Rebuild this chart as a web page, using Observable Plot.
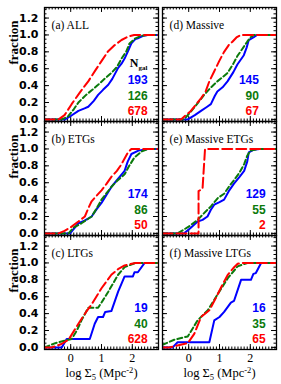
<!DOCTYPE html>
<html><head><meta charset="utf-8">
<script src="https://cdn.jsdelivr.net/npm/d3@7"></script>
<script src="https://cdn.jsdelivr.net/npm/@observablehq/plot@0.6"></script>
<style>body{margin:0;background:#fff}</style>
</head><body><div id="chart"></div>
<script>
// ---- data ----
const panelTitles = ["(a) ALL","(b) ETGs","(c) LTGs","(d) Massive","(e) Massive ETGs","(f) Massive LTGs"];
const panelCols = ["L","L","L","R","R","R"];
const panelRows = [0,1,2,0,1,2];
const nBlue = [193, 174, 19, 145, 129, 16];
const nGreen = [126, 86, 40, 90, 55, 35];
const nRed = [678, 50, 628, 67, 2, 65];
const xTickLabels = [0, 1, 2];
const yTickLabels = [0, 0.2, 0.4, 0.6, 0.8, 1.0, 1.2];

const aBlue = [[-0.85,0],[-0.18,0],[0.0,0.04],[0.25,0.1],[0.45,0.13],[0.57,0.15],[0.75,0.22],[0.89,0.29],[1.05,0.35],[1.22,0.41],[1.35,0.48],[1.54,0.61],[1.65,0.66],[1.75,0.72],[1.85,0.8],[1.97,0.9],[2.1,0.95],[2.18,0.96],[2.35,0.99],[2.5,1.0],[2.85,1.0]];
const aGreen = [[-0.85,0],[-0.29,0],[-0.1,0.03],[0.1,0.12],[0.25,0.2],[0.5,0.29],[0.7,0.35],[0.89,0.41],[1.1,0.48],[1.32,0.55],[1.5,0.62],[1.65,0.72],[1.8,0.8],[1.91,0.9],[2.1,0.96],[2.3,0.99],[2.5,1.0],[2.85,1.0]];
const aRed = [[-0.85,0],[-0.39,0],[-0.2,0.05],[0.03,0.18],[0.3,0.32],[0.57,0.45],[0.8,0.58],[1.0,0.69],[1.2,0.8],[1.43,0.88],[1.65,0.94],[1.86,0.98],[2.06,1.0],[2.85,1.0]];

const bBlue = [[-0.85,0],[-0.02,0],[0.25,0.12],[0.45,0.15],[0.68,0.2],[0.85,0.29],[1.0,0.36],[1.15,0.45],[1.32,0.55],[1.5,0.63],[1.75,0.74],[1.85,0.85],[1.97,0.94],[2.2,0.98],[2.5,1.0],[2.85,1.0]];
const bGreen = [[-0.85,0],[-0.07,0],[0.1,0.07],[0.35,0.12],[0.68,0.2],[0.85,0.3],[1.0,0.4],[1.15,0.47],[1.32,0.55],[1.5,0.62],[1.75,0.7],[1.9,0.8],[2.07,0.9],[2.3,0.97],[2.5,1.0],[2.85,1.0]];
const bRed = [[-0.85,0],[-0.4,0],[-0.2,0.03],[0.03,0.08],[0.25,0.14],[0.46,0.2],[0.6,0.32],[0.68,0.38],[0.85,0.45],[1.0,0.51],[1.15,0.58],[1.32,0.67],[1.5,0.74],[1.65,0.82],[1.86,0.96],[1.97,1.0],[2.85,1.0]];

const cBlue = [[-0.85,0],[-0.29,0],[-0.13,0.1],[0.62,0.1],[0.78,0.28],[0.89,0.36],[1.05,0.36],[1.12,0.42],[1.32,0.43],[1.54,0.66],[1.75,0.84],[2.02,0.84],[2.07,0.89],[2.18,0.89],[2.4,1.0],[2.85,1.0]];
const cGreen = [[-0.85,0],[-0.5,0.05],[-0.2,0.08],[0.03,0.1],[0.2,0.2],[0.35,0.32],[0.57,0.47],[0.89,0.47],[1.05,0.56],[1.22,0.66],[1.54,0.86],[1.75,0.95],[2.1,1.0],[2.85,1.0]];
const cRed = [[-0.85,0],[-0.61,0],[-0.3,0.04],[-0.07,0.09],[0.25,0.28],[0.5,0.42],[0.68,0.51],[1.0,0.7],[1.32,0.86],[1.55,0.93],[1.75,0.97],[2.1,1.0],[2.85,1.0]];

const dBlue = [[-0.85,0],[-0.03,0],[0.2,0.05],[0.4,0.1],[0.6,0.15],[0.72,0.18],[0.85,0.28],[0.93,0.33],[1.1,0.38],[1.26,0.45],[1.45,0.56],[1.58,0.65],[1.79,0.76],[1.88,0.85],[1.95,0.94],[2.1,0.97],[2.22,1.0],[2.85,1.0]];
const dGreen = [[-0.85,0],[-0.15,0],[0.18,0.14],[0.5,0.29],[0.7,0.37],[0.93,0.45],[1.1,0.5],[1.26,0.55],[1.45,0.66],[1.58,0.75],[1.75,0.84],[1.9,0.92],[2.0,0.97],[2.12,1.0],[2.85,1.0]];
const dRed = [[-0.85,0],[-0.25,0],[0.07,0.1],[0.4,0.25],[0.55,0.33],[0.67,0.45],[0.83,0.57],[0.99,0.69],[1.15,0.8],[1.3,0.88],[1.42,0.92],[1.55,0.97],[1.69,1.0],[2.85,1.0]];

const eBlue = [[-0.85,0],[-0.15,0],[0.05,0.06],[0.29,0.14],[0.45,0.16],[0.61,0.2],[0.72,0.28],[0.83,0.34],[1.0,0.37],[1.15,0.4],[1.3,0.5],[1.47,0.59],[1.65,0.67],[1.8,0.74],[1.9,0.85],[1.95,0.96],[2.1,0.99],[2.3,1.0],[2.85,1.0]];
const eGreen = [[-0.85,0],[-0.36,0],[0.0,0.08],[0.29,0.16],[0.5,0.24],[0.72,0.32],[0.95,0.42],[1.15,0.47],[1.3,0.55],[1.47,0.63],[1.65,0.72],[1.8,0.82],[1.9,0.92],[2.0,0.98],[2.3,1.0],[2.85,1.0]];
const eRed = [[-0.85,0],[0.32,0],[0.32,0.5],[0.45,0.53],[0.53,1.0],[2.85,1.0]];

const fBlue = [[-0.85,0],[-0.52,0],[-0.36,0.06],[0.67,0.06],[0.83,0.32],[1.0,0.36],[1.15,0.42],[1.37,0.53],[1.47,0.55],[1.7,0.8],[2.02,0.8],[2.1,0.87],[2.18,0.88],[2.35,1.0],[2.85,1.0]];
const fGreen = [[-0.85,0.03],[-0.47,0.09],[-0.03,0.13],[0.29,0.32],[0.62,0.44],[0.94,0.63],[1.27,0.82],[1.59,0.96],[1.9,1.0],[2.85,1.0]];
const fRed = [[-0.85,0],[-0.63,0],[-0.03,0.05],[0.18,0.16],[0.4,0.36],[0.67,0.44],[0.89,0.59],[1.05,0.71],[1.27,0.86],[1.45,0.94],[1.59,0.99],[1.7,1.0],[2.85,1.0]];

// ---- build tables ----
const seriesByPanel = [
  [aBlue, aGreen, aRed], [bBlue, bGreen, bRed], [cBlue, cGreen, cRed],
  [dBlue, dGreen, dRed], [eBlue, eGreen, eRed], [fBlue, fGreen, fRed]
];
const seriesNames = ["blue", "green", "red"];
const colors = {blue: "#0000ff", green: "#0b7a0b", red: "#ff0000"};
const rows = [];
seriesByPanel.forEach((ss, p) => ss.forEach((pts, s) => pts.forEach(([x, y]) =>
  rows.push({panel: p, col: panelCols[p], row: panelRows[p], series: seriesNames[s], x, y}))));
const panels = panelTitles.map((t, p) => ({panel: p, col: panelCols[p], row: panelRows[p], title: t}));
const legend = [];
panels.forEach(d => [nBlue, nGreen, nRed].forEach((arr, k) =>
  legend.push({...d, k, n: String(arr[d.panel]), series: seriesNames[k]})));

// ---- layout ----
const W = 281, H = 384, mT = 6, mB = 34, mL = 43, mR = 5;
const xDom = [-0.85, 2.85], yDom = [-0.025, 1.325];
const padIn = 0.035;
const step = (W - mL - mR) / (2 - padIn);
const panelW = step * (1 - padIn), panelH = (H - mT - mB) / 3;
const xU = (xDom[1] - xDom[0]) / panelW;   // data units per px
const yU = (yDom[1] - yDom[0]) / panelH;

const xMinor = d3.range(-8, 29).map(i => i / 10);
const yMinor = d3.range(0, 27).map(i => +(i * 0.05).toFixed(2));

function xTicks(ticks, len) {
  return [
    Plot.ruleX(ticks, {x: d => d, y1: yDom[0], y2: yDom[0] + len * yU, strokeWidth: 1}),
    Plot.ruleX(ticks, {x: d => d, y1: yDom[1], y2: yDom[1] - len * yU, strokeWidth: 1})
  ];
}
function yTicks(ticks, len) {
  return [
    Plot.ruleY(ticks, {y: d => d, x1: xDom[0], x2: xDom[0] + len * xU, strokeWidth: 1}),
    Plot.ruleY(ticks, {y: d => d, x1: xDom[1], x2: xDom[1] - len * xU, strokeWidth: 1})
  ];
}

const serif = "'Liberation Serif', 'DejaVu Serif', serif";
const chart = Plot.plot({
  width: W, height: H,
  marginTop: mT, marginBottom: mB, marginLeft: mL, marginRight: mR,
  style: {fontFamily: serif, fontSize: "11px", background: "#fff", color: "#000"},
  x: {domain: xDom},
  y: {domain: yDom},
  fx: {domain: ["L", "R"], paddingInner: padIn, paddingOuter: 0, axis: null},
  fy: {domain: [0, 1, 2], paddingInner: 0, paddingOuter: 0, axis: null},
  marks: [
    ...xTicks(xMinor, 2.5), ...xTicks(xTickLabels, 5),
    ...yTicks(yMinor, 2.5), ...yTicks(yTickLabels, 5),
    Plot.axisX(xTickLabels, {anchor: "bottom", tickSize: 0, tickPadding: 4, facetAnchor: "bottom", label: null,
      fontFamily: serif, fontSize: 12}),
    Plot.axisY(yTickLabels, {anchor: "left", tickSize: 0, tickPadding: 6, facetAnchor: "left", label: null,
      tickFormat: d3.format(".1f"), fontFamily: "'DejaVu Sans', sans-serif", fontWeight: "bold", fontSize: 11}),
    Plot.line(rows.filter(d => d.series === "blue"), {x: "x", y: "y", fx: "col", fy: "row", z: "panel",
      stroke: colors.blue, strokeWidth: 2, clip: true}),
    Plot.line(rows.filter(d => d.series === "green"), {x: "x", y: "y", fx: "col", fy: "row", z: "panel",
      stroke: colors.green, strokeWidth: 2, strokeDasharray: "5,3", clip: true}),
    Plot.line(rows.filter(d => d.series === "red"), {x: "x", y: "y", fx: "col", fy: "row", z: "panel",
      stroke: colors.red, strokeWidth: 2, strokeDasharray: "10,4", clip: true}),
    Plot.frame({strokeWidth: 1.3}),
    Plot.text(panels, {fx: "col", fy: "row", x: () => -0.62, y: () => 1.11, text: "title",
      textAnchor: "start", fontFamily: serif, fontSize: 11.5}),
    Plot.text(legend, {fx: "col", fy: "row",
      x: d => (d.col === "R" && d.row === 0) ? 2.28 : 2.5,
      y: d => [0.46, 0.28, 0.10][d.k], text: "n", textAnchor: "end",
      fill: d => colors[d.series], fontFamily: "'Liberation Sans', Arial, sans-serif", fontSize: 12, fontWeight: "bold"}),
    Plot.text(panels.filter(d => d.panel === 0), {fx: "col", fy: "row", x: () => 1.92, y: () => 0.67,
      text: () => "Ngal", textAnchor: "start", fontFamily: serif, fontSize: 12, fontWeight: "bold"}),
    Plot.text(panels.filter(d => d.col === "L"), {fx: "col", fy: "row", frameAnchor: "left", dx: -31, rotate: -90,
      text: () => "fraction", fontFamily: serif, fontSize: 13, fontWeight: "bold"}),
    Plot.text(panels.filter(d => d.row === 2), {fx: "col", fy: "row", frameAnchor: "bottom", dy: 27,
      text: () => "log Σ5 (Mpc-2)", fontFamily: serif, fontSize: 12.5})
  ]
});
document.getElementById("chart").appendChild(chart);

// sub/superscripts as tspans
d3.select(chart).selectAll("text").each(function () {
  const t = d3.select(this);
  const s = this.textContent;
  if (s === "log Σ5 (Mpc-2)") {
    t.text(null);
    t.append("tspan").text("log Σ");
    t.append("tspan").attr("font-size", 8.5).attr("dy", 3).text("5");
    t.append("tspan").attr("dy", -3).text(" (Mpc");
    t.append("tspan").attr("font-size", 8.5).attr("dy", -4).text("-2");
    t.append("tspan").attr("dy", 4).text(")");
  } else if (s === "Ngal") {
    t.text(null);
    t.append("tspan").text("N");
    t.append("tspan").attr("font-size", 7).attr("dy", 3).text("gal");
  }
});
</script>
</body></html>
